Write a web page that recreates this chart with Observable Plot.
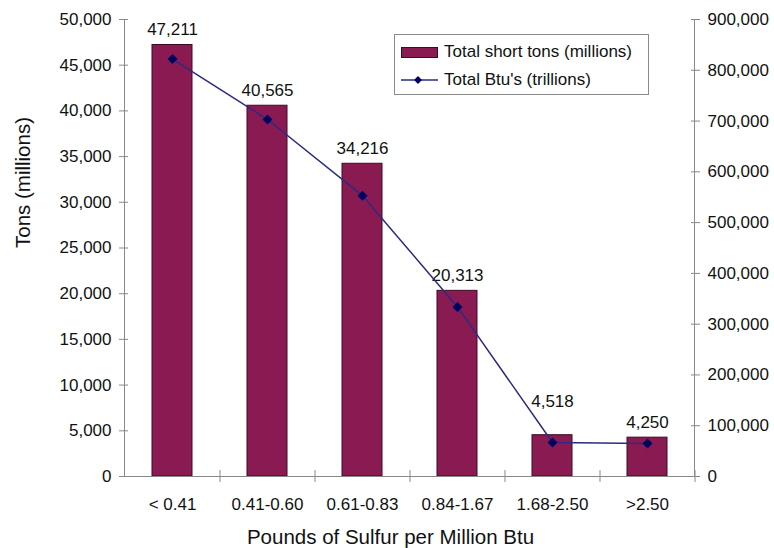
<!DOCTYPE html>
<html>
<head>
<meta charset="utf-8">
<script src="https://cdn.jsdelivr.net/npm/d3@7"></script>
<script src="https://cdn.jsdelivr.net/npm/@observablehq/plot@0.6"></script>
<style>
  body { margin: 0; background: #fff; font-family: "Liberation Sans", Arial, sans-serif; }
  #wrap { position: relative; width: 774px; height: 548px; overflow: hidden; }
  #legend { position: absolute; left: 394px; top: 34px; width: 253px; height: 59px;
            border: 1px solid #8a8a8a; background: #fff; font-size: 17px; color: #111; }
  #legend .row { position: absolute; left: 6px; height: 20px; display: flex; align-items: center; }
  #legend span { margin-left: 6px; white-space: nowrap; }
</style>
</head>
<body>
<div id="wrap">
  <div id="chart"></div>
  <div id="legend">
    <div class="row" style="top:7px;">
      <svg width="37" height="14"><rect x="0.5" y="2.5" width="36" height="10" fill="#8a1a52" stroke="#3d0a22"/></svg>
      <span>Total short tons (millions)</span>
    </div>
    <div class="row" style="top:35px;">
      <svg width="37" height="14"><line x1="0" x2="37" y1="7" y2="7" stroke="#2b2b80" stroke-width="1.5"/><path d="M17,3 L21,7 L17,11 L13,7 Z" fill="#000060"/></svg>
      <span>Total Btu's (trillions)</span>
    </div>
  </div>
</div>
<script>
const categories = ["< 0.41", "0.41-0.60", "0.61-0.83", "0.84-1.67", "1.68-2.50", ">2.50"];
const tons = [47211, 40565, 34216, 20313, 4518, 4250];
const btu = [822000, 703000, 553000, 334000, 67000, 65000];
const leftTicks = [0, 5000, 10000, 15000, 20000, 25000, 30000, 35000, 40000, 45000, 50000];
const rightTicks = [0, 100000, 200000, 300000, 400000, 500000, 600000, 700000, 800000, 900000];
const leftMax = 50000, rightMax = 900000;
const k = leftMax / rightMax;

const data = categories.map((c, i) => ({cat: c, tons: tons[i], btu: btu[i], i}));
const fmt = d3.format(",");
const font = "Liberation Sans, Arial, sans-serif";
const axisColor = "#888";
const textColor = "#111";

const plot = Plot.plot({
  width: 774,
  height: 548,
  marginLeft: 124,
  marginRight: 80,
  marginTop: 19,
  marginBottom: 72,
  style: {fontFamily: font, fontSize: "17px", color: textColor, background: "white"},
  x: {domain: categories, paddingInner: 0.58, paddingOuter: 0.29, axis: null},
  y: {domain: [0, leftMax], axis: null},
  marks: [
    Plot.barY(data, {x: "cat", y: "tons", fill: "#8a1a52", stroke: "#3d0a22", strokeWidth: 1}),
    // axis lines
    Plot.frame({anchor: "left", stroke: axisColor}),
    Plot.frame({anchor: "right", stroke: axisColor}),
    Plot.ruleY([0], {stroke: axisColor}),
    // left axis
    Plot.axisY({ticks: leftTicks, tickSize: 9, dx: 4, tickPadding: 8, tickFormat: fmt,
                stroke: axisColor, fill: textColor, fontSize: 17, label: null}),
    // right axis
    Plot.axisY({anchor: "right", ticks: rightTicks.map(v => v * k), tickSize: 9, dx: -4, tickPadding: 8,
                tickFormat: d => fmt(Math.round(d / k)), stroke: axisColor, fill: textColor, fontSize: 17, label: null}),
    // bottom category boundary ticks
    Plot.axisX({tickSize: 12, dy: -6, dx: 47.5, tickFormat: () => "", stroke: axisColor, label: null}),
    Plot.axisX({tickSize: 0, tickPadding: 21, fill: textColor, fontSize: 17, label: null}),
    // data labels
    Plot.text(data.filter(d => d.i !== 4), {x: "cat", y: "tons", text: d => fmt(d.tons), dy: -10,
               lineAnchor: "bottom", fontSize: 17, fill: textColor}),
    Plot.text(data.filter(d => d.i === 4), {x: "cat", y: "tons", text: d => fmt(d.tons), dy: -28,
               lineAnchor: "bottom", fontSize: 17, fill: textColor}),
    // Btu line
    Plot.line(data, {x: "cat", y: d => d.btu * k, stroke: "#2b2b80", strokeWidth: 1.5}),
    Plot.dot(data, {x: "cat", y: d => d.btu * k, symbol: "diamond2", r: 4.5, fill: "#000060", stroke: "none"}),
    // axis titles
    Plot.text(["Tons (millions)"], {frameAnchor: "left", text: d => d, rotate: -90, dx: -101,
               fontSize: 20.5, fill: textColor, lineAnchor: "middle"}),
    Plot.text(["Pounds of Sulfur per Million Btu"], {frameAnchor: "bottom", text: d => d, dx: -19, dy: 67,
               fontSize: 20.5, fill: textColor, lineAnchor: "bottom"})
  ]
});
document.getElementById("chart").appendChild(plot);
</script>
</body>
</html>
